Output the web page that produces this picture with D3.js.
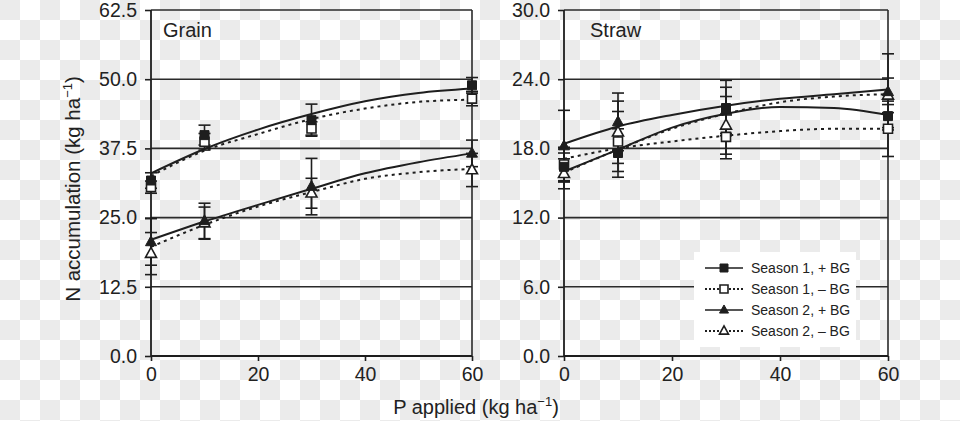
<!DOCTYPE html>
<html>
<head>
<meta charset="utf-8">
<script src="https://cdn.jsdelivr.net/npm/d3@7"></script>
<style>
  html, body { margin: 0; padding: 0; background: #fff; }
  svg { display: block; }
  text { font-family: "Liberation Sans", Arial, Helvetica, sans-serif; fill: #222; }
</style>
</head>
<body>
<svg id="chart" width="960" height="421"></svg>
<script>
// ---------------- DATA ----------------
const pApplied = [0, 10, 30, 60];
const curveP = [0, 10, 20, 30, 40, 50, 60];
const seriesNames = ["Season 1, + BG", "Season 1, – BG", "Season 2, + BG", "Season 2, – BG"];
const xTicks = [0, 20, 40, 60];
const grainTicks = [0, 12.5, 25, 37.5, 50, 62.5];
const strawTicks = [0, 6, 12, 18, 24, 30];

// Grain: observed means and error bars
const grainS1Plus = [31.7, 39.9, 42.6, 48.9];
const grainS1PlusErr = [1.4, 1.8, 2.9, 1.4];
const grainS1Minus = [30.5, 38.7, 41.1, 46.5];
const grainS1MinusErr = [1.1, 1.5, 1.2, 1.3];
const grainS2Plus = [20.6, 24.4, 30.6, 36.6];
const grainS2PlusErr = [4.2, 3.2, 5.1, 2.4];
const grainS2Minus = [18.5, 24.0, 29.4, 33.6];
const grainS2MinusErr = [3.8, 2.9, 2.7, 3.0];
// Grain: fitted curves (read at curveP)
const grainFitS1Plus = [33.0, 37.4, 40.9, 43.7, 46.0, 47.5, 48.3];
const grainFitS1Minus = [32.5, 37.1, 40.1, 42.8, 44.7, 45.9, 46.3];
const grainFitS2Plus = [21.0, 24.3, 27.3, 30.2, 33.0, 35.0, 36.6];
const grainFitS2Minus = [19.7, 23.7, 27.0, 29.6, 32.0, 33.2, 33.8];

// Straw: observed means and error bars
const strawS1Plus = [16.4, 17.6, 21.5, 20.8];
const strawS1PlusErr = [1.2, 2.1, 2.4, 1.0];
const strawS1Minus = [16.6, 18.6, 19.0, 19.7];
const strawS1MinusErr = [1.5, 2.6, 1.9, 2.4];
const strawS2Plus = [18.2, 20.3, 21.3, 22.9];
const strawS2PlusErr = [3.1, 2.5, 2.0, 3.3];
const strawS2Minus = [15.8, 19.4, 20.0, 22.6];
const strawS2MinusErr = [1.3, 2.7, 2.5, 1.5];
// Straw: fitted curves
const strawFitS1Plus = [16.0, 17.9, 19.8, 21.0, 21.6, 21.5, 20.9];
const strawFitS1Minus = [17.1, 18.0, 18.6, 19.1, 19.5, 19.7, 19.7];
const strawFitS2Plus = [18.4, 19.9, 20.9, 21.7, 22.3, 22.7, 23.1];
const strawFitS2Minus = [15.9, 17.9, 19.7, 21.0, 22.0, 22.5, 22.7];

// ---------------- DRAW ----------------
const svg = d3.select("#chart");
const W = 960, H = 421;
const INK = "#1e1e1e";

// checkerboard background
const defs = svg.append("defs");
const pat = defs.append("pattern").attr("id", "checker")
  .attr("width", 40).attr("height", 40).attr("patternUnits", "userSpaceOnUse");
pat.append("rect").attr("width", 40).attr("height", 40).attr("fill", "#ffffff");
pat.append("rect").attr("x", 0).attr("y", 0).attr("width", 20).attr("height", 20).attr("fill", "#ebebeb");
pat.append("rect").attr("x", 20).attr("y", 20).attr("width", 20).attr("height", 20).attr("fill", "#ebebeb");
svg.append("rect").attr("width", W).attr("height", H).attr("fill", "url(#checker)");

const styles = [
  { key: "S1Plus", marker: "square", filled: true, dashed: false },
  { key: "S1Minus", marker: "square", filled: false, dashed: true },
  { key: "S2Plus", marker: "triangle", filled: true, dashed: false },
  { key: "S2Minus", marker: "triangle", filled: false, dashed: true }
];

const panels = [
  {
    title: "Grain", x0: 151, x1: 472, yDomain: [0, 62.5], ticks: grainTicks,
    means: { S1Plus: grainS1Plus, S1Minus: grainS1Minus, S2Plus: grainS2Plus, S2Minus: grainS2Minus },
    errs: { S1Plus: grainS1PlusErr, S1Minus: grainS1MinusErr, S2Plus: grainS2PlusErr, S2Minus: grainS2MinusErr },
    fits: { S1Plus: grainFitS1Plus, S1Minus: grainFitS1Minus, S2Plus: grainFitS2Plus, S2Minus: grainFitS2Minus }
  },
  {
    title: "Straw", x0: 564, x1: 888, yDomain: [0, 30], ticks: strawTicks,
    means: { S1Plus: strawS1Plus, S1Minus: strawS1Minus, S2Plus: strawS2Plus, S2Minus: strawS2Minus },
    errs: { S1Plus: strawS1PlusErr, S1Minus: strawS1MinusErr, S2Plus: strawS2PlusErr, S2Minus: strawS2MinusErr },
    fits: { S1Plus: strawFitS1Plus, S1Minus: strawFitS1Minus, S2Plus: strawFitS2Plus, S2Minus: strawFitS2Minus }
  }
];

const yTop = 10, yBottom = 356;

function markerPath(type, size) {
  if (type === "square") {
    const h = size / 2;
    return `M${-h},${-h}H${h}V${h}H${-h}Z`;
  }
  const s = size, hgt = s * 0.9;
  return `M0,${-hgt * 0.62}L${s / 2},${hgt * 0.38}L${-s / 2},${hgt * 0.38}Z`;
}

function drawMarker(g, st, cx, cy, size) {
  g.append("path")
    .attr("d", markerPath(st.marker, size))
    .attr("transform", `translate(${cx},${cy})`)
    .attr("fill", st.filled ? INK : "#fff")
    .attr("stroke", INK)
    .attr("stroke-width", st.filled ? 1 : 1.6);
}

panels.forEach((p, pi) => {
  const x = d3.scaleLinear().domain([0, 60]).range([p.x0, p.x1]);
  const y = d3.scaleLinear().domain(p.yDomain).range([yBottom, yTop]);
  const g = svg.append("g");

  // horizontal gridlines (incl. top frame)
  g.selectAll(".grid").data(p.ticks.filter(t => t > 0)).enter().append("line")
    .attr("x1", p.x0).attr("x2", p.x1)
    .attr("y1", d => y(d)).attr("y2", d => y(d))
    .attr("stroke", "#2a2a2a").attr("stroke-width", 1.6);
  // right frame
  g.append("line").attr("x1", p.x1).attr("x2", p.x1).attr("y1", yTop).attr("y2", yBottom)
    .attr("stroke", "#2a2a2a").attr("stroke-width", 1.6);

  // axes
  const yAxis = d3.axisLeft(y).tickValues(p.ticks).tickFormat(d3.format(".1f")).tickSize(6).tickPadding(8);
  const ga = g.append("g").attr("transform", `translate(${p.x0},0)`).call(yAxis);
  const xAxis = d3.axisBottom(x).tickValues(xTicks).tickFormat(d3.format("d")).tickSize(5).tickPadding(6);
  const gx = g.append("g").attr("transform", `translate(0,${yBottom})`).call(xAxis);
  [ga, gx].forEach(a => {
    a.select(".domain").attr("stroke", INK).attr("stroke-width", 1.8);
    a.selectAll(".tick line").attr("stroke", INK).attr("stroke-width", 1.6);
    a.selectAll(".tick text").style("font-size", "19.5px").attr("fill", "#222")
      .style("font-family", "'Liberation Sans', Arial, sans-serif");
  });
  ga.select(".domain").attr("d", `M0,${yTop}V${yBottom}`);
  gx.select(".domain").attr("d", `M${p.x0},0H${p.x1}`);

  // panel title
  g.append("text").attr("x", p.x0 + (pi === 0 ? 12 : 26)).attr("y", 37)
    .style("font-size", "20px").text(p.title);

  const line = d3.line().x((d, i) => x(curveP[i])).y(d => y(d)).curve(d3.curveMonotoneX);

  // fitted curves
  styles.forEach(st => {
    g.append("path").datum(p.fits[st.key]).attr("d", line)
      .attr("fill", "none").attr("stroke", INK)
      .attr("stroke-width", 2)
      .attr("stroke-dasharray", st.dashed ? "3,4" : null);
  });

  // error bars
  styles.forEach(st => {
    p.means[st.key].forEach((m, i) => {
      const e = p.errs[st.key][i];
      const cx = x(pApplied[i]);
      g.append("line").attr("x1", cx).attr("x2", cx).attr("y1", y(m - e)).attr("y2", y(m + e))
        .attr("stroke", INK).attr("stroke-width", 1.6);
      [m - e, m + e].forEach(v => {
        g.append("line").attr("x1", cx - 6).attr("x2", cx + 6).attr("y1", y(v)).attr("y2", y(v))
          .attr("stroke", INK).attr("stroke-width", 1.6);
      });
    });
  });

  // markers: open first, filled on top
  [styles[1], styles[3], styles[0], styles[2]].forEach(st => {
    p.means[st.key].forEach((m, i) => {
      drawMarker(g, st, x(pApplied[i]), y(m), st.marker === "square" ? 9 : 11);
    });
  });
});

// Y axis title
const yt = svg.append("text")
  .attr("transform", "translate(80,189) rotate(-90)")
  .attr("text-anchor", "middle")
  .style("font-size", "20.5px");
yt.append("tspan").text("N accumulation (kg ha");
yt.append("tspan").attr("dy", -8).style("font-size", "13px").text("−1");
yt.append("tspan").attr("dy", 8).text(")");

// X axis title
const xt = svg.append("text")
  .attr("x", 476).attr("y", 414)
  .attr("text-anchor", "middle")
  .style("font-size", "20px");
xt.append("tspan").text("P applied (kg ha");
xt.append("tspan").attr("dy", -8).style("font-size", "13px").text("−1");
xt.append("tspan").attr("dy", 8).text(")");

// Legend
const lg = svg.append("g");
lg.append("rect").attr("x", 694).attr("y", 252).attr("width", 162).attr("height", 95).attr("fill", "#fff");
styles.forEach((st, i) => {
  const cy = 268 + i * 21;
  lg.append("line").attr("x1", 705).attr("x2", 743).attr("y1", cy).attr("y2", cy)
    .attr("stroke", INK).attr("stroke-width", st.dashed ? 2 : 1.6)
    .attr("stroke-dasharray", st.dashed ? "2,2" : null);
  drawMarker(lg, st, 724, cy, st.marker === "square" ? 8 : 9);
  lg.append("text").attr("x", 751).attr("y", cy + 5).style("font-size", "14px").text(seriesNames[i]);
});
</script>
</body>
</html>
